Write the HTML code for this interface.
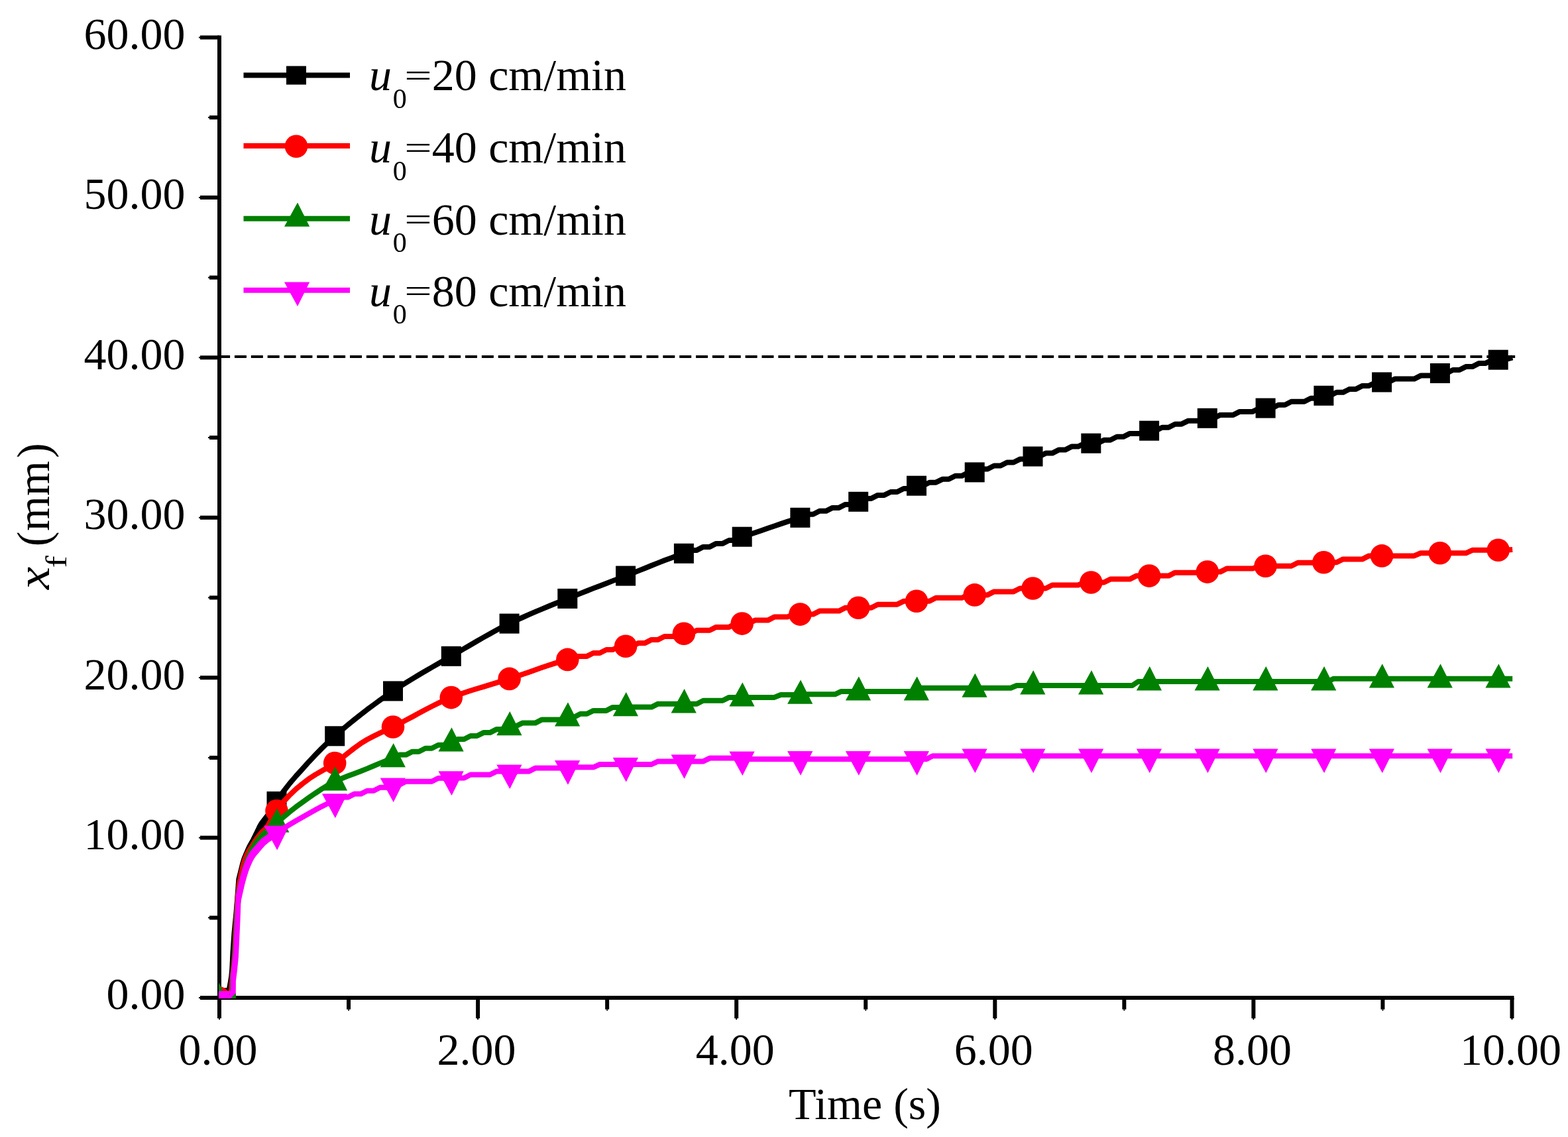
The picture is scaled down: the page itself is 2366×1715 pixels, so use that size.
<!DOCTYPE html>
<html lang="en"><head><meta charset="utf-8"><title>Flame front position versus time</title>
<style>html,body{margin:0;padding:0;background:#fff}body{width:2366px;height:1715px;overflow:hidden}svg{display:block}text{font-family:'Liberation Serif', 'DejaVu Serif', serif;fill:#000}</style>
</head><body>
<svg width="2366" height="1715" viewBox="0 0 2366 1715">
<rect width="2366" height="1715" fill="#ffffff"/>
<g stroke="#000" stroke-width="6" fill="none" stroke-linecap="butt">
<line x1="331.0" y1="53.5" x2="331.0" y2="1536"/>
<line x1="302" y1="1505.0" x2="2284.5" y2="1505.0"/>
<line x1="316" y1="1384.29" x2="331.0" y2="1384.29"/>
<line x1="302" y1="1263.58" x2="331.0" y2="1263.58"/>
<line x1="316" y1="1142.88" x2="331.0" y2="1142.88"/>
<line x1="302" y1="1022.17" x2="331.0" y2="1022.17"/>
<line x1="316" y1="901.46" x2="331.0" y2="901.46"/>
<line x1="302" y1="780.75" x2="331.0" y2="780.75"/>
<line x1="316" y1="660.04" x2="331.0" y2="660.04"/>
<line x1="302" y1="539.33" x2="331.0" y2="539.33"/>
<line x1="316" y1="418.62" x2="331.0" y2="418.62"/>
<line x1="302" y1="297.92" x2="331.0" y2="297.92"/>
<line x1="316" y1="177.21" x2="331.0" y2="177.21"/>
<line x1="302" y1="56.50" x2="331.0" y2="56.50"/>
<line x1="526.05" y1="1505.0" x2="526.05" y2="1522.5"/>
<line x1="721.10" y1="1505.0" x2="721.10" y2="1536"/>
<line x1="916.15" y1="1505.0" x2="916.15" y2="1522.5"/>
<line x1="1111.20" y1="1505.0" x2="1111.20" y2="1536"/>
<line x1="1306.25" y1="1505.0" x2="1306.25" y2="1522.5"/>
<line x1="1501.30" y1="1505.0" x2="1501.30" y2="1536"/>
<line x1="1696.35" y1="1505.0" x2="1696.35" y2="1522.5"/>
<line x1="1891.40" y1="1505.0" x2="1891.40" y2="1536"/>
<line x1="2086.45" y1="1505.0" x2="2086.45" y2="1522.5"/>
<line x1="2281.50" y1="1505.0" x2="2281.50" y2="1536"/>
</g>
<g fill="#000">
<rect x="300" y="1504.00" width="2" height="2"/>
<rect x="314" y="1383.29" width="2" height="2"/>
<rect x="300" y="1262.58" width="2" height="2"/>
<rect x="314" y="1141.88" width="2" height="2"/>
<rect x="300" y="1021.17" width="2" height="2"/>
<rect x="314" y="900.46" width="2" height="2"/>
<rect x="300" y="779.75" width="2" height="2"/>
<rect x="314" y="659.04" width="2" height="2"/>
<rect x="300" y="538.33" width="2" height="2"/>
<rect x="314" y="417.62" width="2" height="2"/>
<rect x="300" y="296.92" width="2" height="2"/>
<rect x="314" y="176.21" width="2" height="2"/>
<rect x="300" y="55.50" width="2" height="2"/>
<rect x="330.00" y="1536" width="2" height="2"/>
<rect x="525.05" y="1522.5" width="2" height="2"/>
<rect x="720.10" y="1536" width="2" height="2"/>
<rect x="915.15" y="1522.5" width="2" height="2"/>
<rect x="1110.20" y="1536" width="2" height="2"/>
<rect x="1305.25" y="1522.5" width="2" height="2"/>
<rect x="1500.30" y="1536" width="2" height="2"/>
<rect x="1695.35" y="1522.5" width="2" height="2"/>
<rect x="1890.40" y="1536" width="2" height="2"/>
<rect x="2085.45" y="1522.5" width="2" height="2"/>
<rect x="2280.50" y="1536" width="2" height="2"/>
</g>
<g font-size="68.0px" text-anchor="end">
<text x="279.5" y="1522.3">0.00</text>
<text x="279.5" y="1280.9">10.00</text>
<text x="279.5" y="1039.5">20.00</text>
<text x="279.5" y="798.0">30.00</text>
<text x="279.5" y="556.6">40.00</text>
<text x="279.5" y="315.2">50.00</text>
<text x="279.5" y="73.8">60.00</text>
</g>
<g font-size="68.0px" text-anchor="middle">
<text x="329.0" y="1605.5">0.00</text>
<text x="719.1" y="1605.5">2.00</text>
<text x="1109.2" y="1605.5">4.00</text>
<text x="1499.3" y="1605.5">6.00</text>
<text x="1889.4" y="1605.5">8.00</text>
<text x="2279.5" y="1605.5">10.00</text>
<text x="1305" y="1688">Time (s)</text>
</g>
<g transform="translate(74,0)" font-size="68.0px">
<g transform="translate(0,891.0) rotate(-90) scale(1,1.03)"><text x="1.8" y="0" font-style="italic" transform="scale(1.13,1)">x</text></g>
<g transform="translate(0,856.5) rotate(-90) scale(1,1.03)"><text x="0" y="25.2" font-size="42.0px" transform="scale(1.3,1)">f </text></g>
<g transform="translate(0,824.7) rotate(-90) scale(1,1.03)"><text y="0"><tspan x="0.4">(</tspan><tspan x="23.8">m</tspan><tspan x="76.8">m</tspan><tspan x="133.8">)</tspan></text></g>
</g>
<line x1="329.1" y1="538" x2="2286.5" y2="538" stroke="#000" stroke-width="4.2" stroke-dasharray="18 6.86"/>
<defs><clipPath id="plotclip"><rect x="330" y="0" width="2036" height="1506"/></clipPath></defs>
<g clip-path="url(#plotclip)">
<path d="M327.0,1509.0 L327.0,1501.0 L341.0,1501.0 L342.2,1490.0 L344.0,1480.0 L345.3,1472.0 L346.3,1461.0 L347.5,1436.0 L349.5,1407.0 L352.3,1378.0 L354.2,1355.0 L356.4,1325.5 L360.2,1310.2 L361.0,1307.0 L362.3,1301.7 L363.7,1297.0 L365.0,1293.1 L366.4,1289.7 L367.7,1286.6 L369.1,1283.4 L370.4,1280.3 L371.8,1277.3 L373.1,1274.6 L374.5,1272.1 L375.8,1269.8 L377.1,1267.4 L378.5,1264.9 L379.8,1262.3 L381.2,1259.5 L382.5,1256.8 L383.9,1254.1 L385.2,1251.3 L386.6,1248.4 L387.9,1245.6 L389.3,1243.0 L390.6,1240.7 L391.9,1238.7 L393.3,1236.9 L394.6,1235.2 L396.0,1233.5 L397.3,1231.8 L398.7,1230.1 L400.0,1228.2 L401.4,1226.2 L402.7,1224.1 L404.1,1222.0 L405.4,1219.7 L406.7,1217.4 L408.1,1215.0 L409.4,1212.4 L410.8,1209.7 L412.1,1207.1 L413.5,1204.8 L421.5,1204.8 L421.5,1212.8 L420.1,1215.1 L418.8,1217.7 L417.4,1220.4 L416.1,1223.0 L414.7,1225.4 L413.4,1227.7 L412.1,1230.0 L410.7,1232.1 L409.4,1234.2 L408.0,1236.2 L406.7,1238.1 L405.3,1239.8 L404.0,1241.5 L402.6,1243.2 L401.3,1244.9 L399.9,1246.7 L398.6,1248.7 L397.3,1251.0 L395.9,1253.6 L394.6,1256.4 L393.2,1259.3 L391.9,1262.1 L390.5,1264.8 L389.2,1267.5 L387.8,1270.3 L386.5,1272.9 L385.1,1275.4 L383.8,1277.8 L382.5,1280.1 L381.1,1282.6 L379.8,1285.3 L378.4,1288.3 L377.1,1291.4 L375.7,1294.6 L374.4,1297.7 L373.0,1301.1 L371.7,1305.0 L370.3,1309.7 L369.0,1315.0 L368.2,1318.2 L364.4,1333.5 L362.2,1363.0 L360.3,1386.0 L357.5,1415.0 L355.5,1444.0 L354.3,1469.0 L353.3,1480.0 L352.0,1488.0 L350.2,1498.0 L349.0,1509.0 L335.0,1509.0Z" fill="#000000"/>
<path d="M417.5,1208.8 L427.2,1194.5 L437.0,1181.9 L446.7,1170.5 L456.5,1159.7 L466.2,1148.9 L476.0,1138.6 L485.7,1128.6 L495.5,1119.2 L505.2,1110.3 L515.0,1101.8 L524.8,1093.5 L534.5,1085.6 L544.3,1077.8 L554.0,1070.3 L563.8,1063.1 L573.5,1056.0 L583.3,1049.1 L593.0,1042.4 L602.8,1036.0 L612.5,1029.8 L622.3,1023.8 L632.0,1018.0 L641.8,1012.2 L651.5,1006.6 L661.3,1001.0 L671.0,995.4 L680.8,989.8 L690.5,984.1 L700.3,978.4 L710.0,972.7 L719.8,967.0 L729.6,961.4 L739.3,955.9 L749.1,950.6 L758.8,945.4 L768.6,940.6 L778.3,935.9 L788.1,931.5 L797.8,927.1 L807.6,922.9 L817.3,918.9 L827.1,914.8 L836.8,910.8 L846.6,906.9 L856.3,902.9 L866.1,899.0 L875.8,895.1 L885.6,891.2 L895.3,887.4 L905.1,883.7 L914.9,879.9 L924.6,876.1 L934.4,872.4 L944.1,868.6 L953.9,864.8 L963.6,860.9 L973.4,857.0 L983.1,853.0 L992.9,849.1 L1002.6,845.3 L1012.4,841.7 L1022.1,838.1 L1031.9,834.8 L1041.6,829.9 L1051.4,829.9 L1061.1,824.9 L1070.9,824.9 L1080.6,819.9 L1090.4,819.9 L1100.1,815.0 L1109.9,815.0 L1119.7,809.7 L1129.4,806.7 L1139.2,803.5 L1148.9,800.2 L1158.7,796.8 L1168.4,793.5 L1178.2,790.1 L1187.9,786.9 L1197.7,783.7 L1207.4,780.8 L1217.2,775.8 L1226.9,775.8 L1236.7,770.8 L1246.4,770.8 L1256.2,765.9 L1265.9,765.9 L1275.7,760.9 L1285.4,760.9 L1295.2,756.8 L1305.0,751.9 L1314.7,751.9 L1324.5,746.9 L1334.2,746.9 L1344.0,742.0 L1353.7,742.0 L1363.5,737.0 L1373.2,737.0 L1383.0,732.7 L1392.7,732.7 L1402.5,727.7 L1412.2,727.7 L1422.0,722.8 L1431.7,722.8 L1441.5,717.8 L1451.2,717.8 L1461.0,712.9 L1470.7,712.4 L1480.5,707.5 L1490.2,707.5 L1500.0,702.5 L1509.8,702.5 L1519.5,697.5 L1529.3,697.5 L1539.0,692.6 L1548.8,692.6 L1558.5,688.5 L1568.3,688.5 L1578.0,683.6 L1587.8,683.6 L1597.5,678.6 L1607.3,678.6 L1617.0,673.6 L1626.8,673.6 L1636.5,668.7 L1646.3,668.7 L1656.0,668.7 L1665.8,663.8 L1675.5,663.8 L1685.3,658.8 L1695.0,658.8 L1704.8,653.9 L1714.6,653.9 L1724.3,653.9 L1734.1,649.7 L1743.8,649.7 L1753.6,644.7 L1763.3,644.7 L1773.1,639.7 L1782.8,639.7 L1792.6,634.8 L1802.3,634.8 L1812.1,634.8 L1821.8,630.8 L1831.6,630.8 L1841.3,625.9 L1851.1,625.9 L1860.8,625.9 L1870.6,620.9 L1880.3,620.9 L1890.1,620.9 L1899.9,616.0 L1909.6,615.6 L1919.4,615.6 L1929.1,610.7 L1938.9,610.7 L1948.6,605.7 L1958.4,605.7 L1968.1,605.7 L1977.9,600.7 L1987.6,600.7 L1997.4,596.8 L2007.1,596.8 L2016.9,591.8 L2026.6,591.8 L2036.4,586.9 L2046.1,586.9 L2055.9,581.9 L2065.6,581.9 L2075.4,577.0 L2085.1,576.5 L2094.9,576.5 L2104.7,571.6 L2114.4,571.6 L2124.2,571.6 L2133.9,571.6 L2143.7,566.6 L2153.4,566.6 L2163.2,566.6 L2172.9,563.0 L2182.7,563.0 L2192.4,558.0 L2202.2,558.0 L2211.9,553.1 L2221.7,553.1 L2231.4,548.1 L2241.2,548.1 L2250.9,543.2 L2260.7,542.7 L2270.4,542.7 L2282.2,539.3" fill="none" stroke="#000000" stroke-width="8" stroke-linejoin="round"/>
<g><rect x="314.7" y="1490.0" width="30" height="30" fill="#000000"/><rect x="402.5" y="1193.8" width="30" height="30" fill="#000000"/><rect x="490.2" y="1095.3" width="30" height="30" fill="#000000"/><rect x="578.0" y="1027.4" width="30" height="30" fill="#000000"/><rect x="665.8" y="974.8" width="30" height="30" fill="#000000"/><rect x="753.6" y="925.6" width="30" height="30" fill="#000000"/><rect x="841.3" y="887.9" width="30" height="30" fill="#000000"/><rect x="929.1" y="853.6" width="30" height="30" fill="#000000"/><rect x="1016.9" y="819.8" width="30" height="30" fill="#000000"/><rect x="1104.7" y="794.7" width="30" height="30" fill="#000000"/><rect x="1192.4" y="765.8" width="30" height="30" fill="#000000"/><rect x="1280.2" y="741.8" width="30" height="30" fill="#000000"/><rect x="1368.0" y="717.7" width="30" height="30" fill="#000000"/><rect x="1455.7" y="697.4" width="30" height="30" fill="#000000"/><rect x="1543.5" y="673.5" width="30" height="30" fill="#000000"/><rect x="1631.3" y="653.7" width="30" height="30" fill="#000000"/><rect x="1719.1" y="634.7" width="30" height="30" fill="#000000"/><rect x="1806.8" y="615.8" width="30" height="30" fill="#000000"/><rect x="1894.6" y="600.6" width="30" height="30" fill="#000000"/><rect x="1982.4" y="581.8" width="30" height="30" fill="#000000"/><rect x="2070.1" y="561.5" width="30" height="30" fill="#000000"/><rect x="2157.9" y="548.0" width="30" height="30" fill="#000000"/><rect x="2245.7" y="527.7" width="30" height="30" fill="#000000"/></g>
<path d="M327.0,1509.0 L327.0,1501.0 L344.0,1501.0 L345.2,1492.0 L346.6,1472.0 L348.6,1456.0 L350.2,1436.0 L351.4,1407.0 L352.9,1378.0 L354.6,1353.0 L357.0,1333.0 L360.2,1316.8 L361.0,1313.1 L362.3,1307.1 L363.7,1301.8 L365.0,1297.5 L366.4,1293.7 L367.7,1290.2 L369.1,1287.1 L370.4,1284.4 L371.8,1281.9 L373.1,1279.7 L374.5,1277.7 L375.8,1275.7 L377.1,1273.5 L378.5,1271.4 L379.8,1269.2 L381.2,1267.1 L382.5,1265.0 L383.9,1263.1 L385.2,1261.2 L386.6,1259.4 L387.9,1257.7 L389.3,1256.0 L390.6,1254.4 L391.9,1252.8 L393.3,1251.4 L394.6,1250.1 L396.0,1248.9 L397.3,1247.7 L398.7,1246.2 L400.0,1244.5 L401.4,1242.4 L402.7,1240.1 L404.1,1237.6 L405.4,1235.1 L406.7,1232.6 L408.1,1229.8 L409.4,1226.8 L410.8,1223.9 L412.1,1221.3 L413.5,1219.0 L421.5,1219.0 L421.5,1227.0 L420.1,1229.3 L418.8,1231.9 L417.4,1234.8 L416.1,1237.8 L414.7,1240.6 L413.4,1243.1 L412.1,1245.6 L410.7,1248.1 L409.4,1250.4 L408.0,1252.5 L406.7,1254.2 L405.3,1255.7 L404.0,1256.9 L402.6,1258.1 L401.3,1259.4 L399.9,1260.8 L398.6,1262.4 L397.3,1264.0 L395.9,1265.7 L394.6,1267.4 L393.2,1269.2 L391.9,1271.1 L390.5,1273.0 L389.2,1275.1 L387.8,1277.2 L386.5,1279.4 L385.1,1281.5 L383.8,1283.7 L382.5,1285.7 L381.1,1287.7 L379.8,1289.9 L378.4,1292.4 L377.1,1295.1 L375.7,1298.2 L374.4,1301.7 L373.0,1305.5 L371.7,1309.8 L370.3,1315.1 L369.0,1321.1 L368.2,1324.8 L365.0,1341.0 L362.6,1361.0 L360.9,1386.0 L359.4,1415.0 L358.2,1444.0 L356.6,1464.0 L354.6,1480.0 L353.2,1500.0 L352.0,1509.0 L335.0,1509.0Z" fill="#ff0000"/>
<path d="M417.5,1223.0 L427.2,1210.0 L437.0,1199.3 L446.7,1190.2 L456.5,1182.1 L466.2,1174.7 L476.0,1168.4 L485.7,1162.8 L495.5,1157.2 L505.2,1151.1 L515.0,1144.0 L524.8,1136.2 L534.5,1128.5 L544.3,1121.4 L554.0,1115.5 L563.8,1110.4 L573.5,1105.7 L583.3,1101.2 L593.0,1096.5 L602.8,1091.5 L612.5,1086.3 L622.3,1081.1 L632.0,1075.8 L641.8,1070.5 L651.5,1065.5 L661.3,1060.7 L671.0,1056.2 L680.8,1052.1 L690.5,1048.4 L700.3,1045.0 L710.0,1041.8 L719.8,1038.7 L729.6,1035.8 L739.3,1032.9 L749.1,1029.9 L758.8,1027.0 L768.6,1023.9 L778.3,1020.6 L788.1,1017.3 L797.8,1013.9 L807.6,1010.5 L817.3,1007.1 L827.1,1003.8 L836.8,1000.6 L846.6,997.6 L856.3,994.9 L866.1,989.9 L875.8,989.9 L885.6,989.9 L895.3,985.0 L905.1,985.0 L914.9,980.0 L924.6,980.0 L934.4,975.0 L944.1,974.8 L953.9,974.8 L963.6,969.9 L973.4,969.9 L983.1,964.9 L992.9,964.9 L1002.6,960.0 L1012.4,960.0 L1022.1,960.0 L1031.9,955.8 L1041.6,955.8 L1051.4,950.8 L1061.1,950.8 L1070.9,950.8 L1080.6,945.9 L1090.4,945.9 L1100.1,945.9 L1109.9,940.9 L1119.7,940.6 L1129.4,940.6 L1139.2,935.6 L1148.9,935.6 L1158.7,935.6 L1168.4,930.6 L1178.2,930.6 L1187.9,930.6 L1197.7,926.6 L1207.4,926.6 L1217.2,926.6 L1226.9,926.6 L1236.7,921.6 L1246.4,921.6 L1256.2,921.6 L1265.9,921.6 L1275.7,916.7 L1285.4,916.7 L1295.2,916.7 L1305.0,916.7 L1314.7,916.7 L1324.5,911.7 L1334.2,911.7 L1344.0,911.7 L1353.7,911.7 L1363.5,906.8 L1373.2,906.8 L1383.0,906.8 L1392.7,906.8 L1402.5,906.8 L1412.2,901.8 L1422.0,901.8 L1431.7,901.8 L1441.5,901.8 L1451.2,901.8 L1461.0,897.4 L1470.7,897.4 L1480.5,897.4 L1490.2,897.4 L1500.0,892.4 L1509.8,892.4 L1519.5,892.4 L1529.3,892.4 L1539.0,887.5 L1548.8,887.5 L1558.5,887.5 L1568.3,887.5 L1578.0,887.5 L1587.8,882.5 L1597.5,882.5 L1607.3,882.5 L1617.0,882.5 L1626.8,882.5 L1636.5,878.5 L1646.3,878.5 L1656.0,878.5 L1665.8,878.5 L1675.5,873.6 L1685.3,873.6 L1695.0,873.6 L1704.8,873.6 L1714.6,868.6 L1724.3,868.6 L1734.1,868.6 L1743.8,868.6 L1753.6,868.6 L1763.3,868.6 L1773.1,863.7 L1782.8,863.7 L1792.6,863.7 L1802.3,863.7 L1812.1,863.7 L1821.8,862.6 L1831.6,862.6 L1841.3,862.6 L1851.1,857.6 L1860.8,857.6 L1870.6,857.6 L1880.3,857.6 L1890.1,857.6 L1899.9,853.7 L1909.6,853.7 L1919.4,853.7 L1929.1,853.7 L1938.9,853.7 L1948.6,853.7 L1958.4,848.7 L1968.1,848.7 L1977.9,848.7 L1987.6,848.7 L1997.4,848.3 L2007.1,848.3 L2016.9,848.3 L2026.6,843.4 L2036.4,843.4 L2046.1,843.4 L2055.9,843.4 L2065.6,838.4 L2075.4,838.4 L2085.1,838.4 L2094.9,838.4 L2104.7,838.4 L2114.4,838.4 L2124.2,838.4 L2133.9,838.4 L2143.7,834.3 L2153.4,834.3 L2163.2,834.3 L2172.9,834.3 L2182.7,834.3 L2192.4,834.3 L2202.2,834.3 L2211.9,834.3 L2221.7,829.8 L2231.4,829.8 L2241.2,829.8 L2250.9,829.8 L2260.7,829.8 L2270.4,829.8 L2282.2,829.0" fill="none" stroke="#ff0000" stroke-width="8" stroke-linejoin="round"/>
<g><circle cx="329.7" cy="1505.0" r="17.3" fill="#ff0000"/><circle cx="417.5" cy="1223.0" r="17.3" fill="#ff0000"/><circle cx="505.2" cy="1151.1" r="17.3" fill="#ff0000"/><circle cx="593.0" cy="1096.5" r="17.3" fill="#ff0000"/><circle cx="680.8" cy="1052.1" r="17.3" fill="#ff0000"/><circle cx="768.6" cy="1023.9" r="17.3" fill="#ff0000"/><circle cx="856.3" cy="994.9" r="17.3" fill="#ff0000"/><circle cx="944.1" cy="974.8" r="17.3" fill="#ff0000"/><circle cx="1031.9" cy="955.8" r="17.3" fill="#ff0000"/><circle cx="1119.7" cy="940.6" r="17.3" fill="#ff0000"/><circle cx="1207.4" cy="926.6" r="17.3" fill="#ff0000"/><circle cx="1295.2" cy="916.7" r="17.3" fill="#ff0000"/><circle cx="1383.0" cy="906.8" r="17.3" fill="#ff0000"/><circle cx="1470.7" cy="897.4" r="17.3" fill="#ff0000"/><circle cx="1558.5" cy="887.5" r="17.3" fill="#ff0000"/><circle cx="1646.3" cy="878.5" r="17.3" fill="#ff0000"/><circle cx="1734.1" cy="868.6" r="17.3" fill="#ff0000"/><circle cx="1821.8" cy="862.6" r="17.3" fill="#ff0000"/><circle cx="1909.6" cy="853.7" r="17.3" fill="#ff0000"/><circle cx="1997.4" cy="848.3" r="17.3" fill="#ff0000"/><circle cx="2085.1" cy="838.4" r="17.3" fill="#ff0000"/><circle cx="2172.9" cy="834.3" r="17.3" fill="#ff0000"/><circle cx="2260.7" cy="829.8" r="17.3" fill="#ff0000"/></g>
<path d="M327.0,1509.0 L327.0,1501.0 L345.8,1501.0 L346.8,1492.0 L347.2,1472.0 L349.3,1456.0 L350.9,1436.0 L352.3,1407.0 L353.6,1378.0 L355.0,1356.0 L356.4,1344.2 L361.0,1325.6 L362.3,1320.6 L363.7,1315.4 L365.0,1310.3 L366.4,1305.6 L367.7,1301.1 L369.1,1296.8 L370.4,1292.8 L371.8,1289.4 L373.1,1286.3 L374.5,1283.4 L375.8,1280.7 L377.1,1278.2 L378.5,1275.8 L379.8,1273.5 L381.2,1271.4 L382.5,1269.4 L383.9,1267.5 L385.2,1265.7 L386.6,1264.0 L387.9,1262.4 L389.3,1260.8 L390.6,1259.3 L391.9,1257.9 L393.3,1256.5 L394.6,1255.2 L396.0,1253.9 L397.3,1252.7 L398.7,1251.5 L400.0,1250.3 L401.4,1249.3 L402.7,1248.3 L404.1,1247.4 L405.4,1246.4 L406.7,1245.2 L408.1,1243.9 L409.4,1242.4 L410.8,1240.8 L412.1,1239.3 L413.5,1237.8 L421.5,1237.8 L421.5,1245.8 L420.1,1247.3 L418.8,1248.8 L417.4,1250.4 L416.1,1251.9 L414.7,1253.2 L413.4,1254.4 L412.1,1255.4 L410.7,1256.3 L409.4,1257.3 L408.0,1258.3 L406.7,1259.5 L405.3,1260.7 L404.0,1261.9 L402.6,1263.2 L401.3,1264.5 L399.9,1265.9 L398.6,1267.3 L397.3,1268.8 L395.9,1270.4 L394.6,1272.0 L393.2,1273.7 L391.9,1275.5 L390.5,1277.4 L389.2,1279.4 L387.8,1281.5 L386.5,1283.8 L385.1,1286.2 L383.8,1288.7 L382.5,1291.4 L381.1,1294.3 L379.8,1297.4 L378.4,1300.8 L377.1,1304.8 L375.7,1309.1 L374.4,1313.6 L373.0,1318.3 L371.7,1323.4 L370.3,1328.6 L369.0,1333.6 L364.4,1352.2 L363.0,1364.0 L361.6,1386.0 L360.3,1415.0 L358.9,1444.0 L357.3,1464.0 L355.2,1480.0 L354.8,1500.0 L353.8,1509.0 L335.0,1509.0Z" fill="#008000"/>
<path d="M417.5,1241.8 L427.2,1232.9 L437.0,1224.7 L446.7,1217.1 L456.5,1210.0 L466.2,1203.1 L476.0,1196.3 L485.7,1189.9 L495.5,1184.0 L505.2,1178.8 L515.0,1174.4 L524.8,1170.6 L534.5,1166.9 L544.3,1163.3 L554.0,1159.4 L563.8,1155.2 L573.5,1151.1 L583.3,1147.1 L593.0,1143.6 L602.8,1138.6 L612.5,1138.6 L622.3,1133.7 L632.0,1133.7 L641.8,1128.7 L651.5,1128.7 L661.3,1123.7 L671.0,1123.7 L680.8,1119.9 L690.5,1115.0 L700.3,1115.0 L710.0,1110.0 L719.8,1110.0 L729.6,1105.1 L739.3,1105.1 L749.1,1100.1 L758.8,1100.1 L768.6,1095.5 L778.3,1095.5 L788.1,1090.6 L797.8,1090.6 L807.6,1090.6 L817.3,1085.6 L827.1,1085.6 L836.8,1085.6 L846.6,1085.6 L856.3,1081.8 L866.1,1081.8 L875.8,1076.8 L885.6,1076.8 L895.3,1071.9 L905.1,1071.9 L914.9,1071.9 L924.6,1066.9 L934.4,1066.9 L944.1,1066.6 L953.9,1066.6 L963.6,1066.6 L973.4,1066.6 L983.1,1066.6 L992.9,1061.7 L1002.6,1061.7 L1012.4,1061.7 L1022.1,1061.7 L1031.9,1061.7 L1041.6,1061.7 L1051.4,1061.7 L1061.1,1056.8 L1070.9,1056.8 L1080.6,1056.8 L1090.4,1056.8 L1100.1,1051.9 L1109.9,1051.9 L1119.7,1051.9 L1129.4,1051.9 L1139.2,1051.9 L1148.9,1051.9 L1158.7,1051.9 L1168.4,1051.9 L1178.2,1048.0 L1187.9,1048.0 L1197.7,1048.0 L1209.5,1047.3 L1259.9,1047.3 L1268.9,1043.1 L1381.2,1043.1 L1390.2,1037.7 L1525.2,1037.7 L1534.2,1034.0 L1708.5,1034.0 L1717.5,1028.0 L2003.5,1028.0 L2012.5,1023.7 L2282.2,1023.7" fill="none" stroke="#008000" stroke-width="8" stroke-linejoin="round"/>
<g><polygon points="330.4,1482.4 348.6,1518.7 310.4,1518.7" fill="#008000"/><polygon points="418.2,1219.2 436.4,1255.5 398.2,1255.5" fill="#008000"/><polygon points="505.9,1156.2 524.1,1192.5 485.9,1192.5" fill="#008000"/><polygon points="593.7,1121.0 611.9,1157.3 573.7,1157.3" fill="#008000"/><polygon points="681.5,1097.3 699.7,1133.6 661.5,1133.6" fill="#008000"/><polygon points="769.3,1072.9 787.5,1109.2 749.3,1109.2" fill="#008000"/><polygon points="857.0,1059.2 875.2,1095.5 837.0,1095.5" fill="#008000"/><polygon points="944.8,1044.0 963.0,1080.3 924.8,1080.3" fill="#008000"/><polygon points="1032.6,1039.1 1050.8,1075.4 1012.6,1075.4" fill="#008000"/><polygon points="1120.4,1029.3 1138.6,1065.6 1100.4,1065.6" fill="#008000"/><polygon points="1208.1,1025.4 1226.3,1061.7 1188.1,1061.7" fill="#008000"/><polygon points="1295.9,1020.3 1314.1,1056.6 1275.9,1056.6" fill="#008000"/><polygon points="1383.7,1020.3 1401.9,1056.6 1363.7,1056.6" fill="#008000"/><polygon points="1471.4,1015.5 1489.6,1051.8 1451.4,1051.8" fill="#008000"/><polygon points="1559.2,1011.1 1577.4,1047.4 1539.2,1047.4" fill="#008000"/><polygon points="1647.0,1011.1 1665.2,1047.4 1627.0,1047.4" fill="#008000"/><polygon points="1734.8,1005.1 1753.0,1041.4 1714.8,1041.4" fill="#008000"/><polygon points="1822.5,1005.1 1840.7,1041.4 1802.5,1041.4" fill="#008000"/><polygon points="1910.3,1005.1 1928.5,1041.4 1890.3,1041.4" fill="#008000"/><polygon points="1998.1,1005.1 2016.3,1041.4 1978.1,1041.4" fill="#008000"/><polygon points="2085.8,1001.2 2104.0,1037.5 2065.8,1037.5" fill="#008000"/><polygon points="2173.6,1001.2 2191.8,1037.5 2153.6,1037.5" fill="#008000"/><polygon points="2261.4,1001.2 2279.6,1037.5 2241.4,1037.5" fill="#008000"/></g>
<path d="M327.0,1509.0 L327.0,1501.0 L346.5,1501.0 L347.8,1492.0 L347.9,1472.0 L349.9,1456.0 L351.9,1436.0 L353.3,1407.0 L354.6,1378.0 L355.5,1351.5 L361.0,1327.0 L362.3,1322.0 L363.7,1317.1 L365.0,1312.5 L366.4,1308.2 L367.7,1304.3 L369.1,1300.8 L370.4,1297.5 L371.8,1294.4 L373.1,1291.6 L374.5,1289.0 L375.8,1286.7 L377.1,1284.7 L378.5,1282.9 L379.8,1281.3 L381.2,1279.7 L382.5,1278.2 L383.9,1276.6 L385.2,1275.0 L386.6,1273.4 L387.9,1271.8 L389.3,1270.2 L390.6,1268.7 L391.9,1267.3 L393.3,1266.0 L394.6,1264.9 L396.0,1263.8 L397.3,1262.8 L398.7,1261.8 L400.0,1260.9 L401.4,1259.9 L402.7,1259.0 L404.1,1258.1 L405.4,1257.1 L406.7,1256.2 L408.1,1255.3 L409.4,1254.4 L410.8,1253.6 L412.1,1252.7 L413.5,1251.8 L421.5,1251.8 L421.5,1259.8 L420.1,1260.7 L418.8,1261.6 L417.4,1262.4 L416.1,1263.3 L414.7,1264.2 L413.4,1265.1 L412.1,1266.1 L410.7,1267.0 L409.4,1267.9 L408.0,1268.9 L406.7,1269.8 L405.3,1270.8 L404.0,1271.8 L402.6,1272.9 L401.3,1274.0 L399.9,1275.3 L398.6,1276.7 L397.3,1278.2 L395.9,1279.8 L394.6,1281.4 L393.2,1283.0 L391.9,1284.6 L390.5,1286.2 L389.2,1287.7 L387.8,1289.3 L386.5,1290.9 L385.1,1292.7 L383.8,1294.7 L382.5,1297.0 L381.1,1299.6 L379.8,1302.4 L378.4,1305.5 L377.1,1308.8 L375.7,1312.3 L374.4,1316.2 L373.0,1320.5 L371.7,1325.1 L370.3,1330.0 L369.0,1335.0 L363.5,1359.5 L362.6,1386.0 L361.3,1415.0 L359.9,1444.0 L357.9,1464.0 L355.9,1480.0 L355.8,1500.0 L354.5,1509.0 L335.0,1509.0Z" fill="#ff00ff"/>
<path d="M417.5,1255.8 L427.2,1249.7 L437.0,1243.8 L446.7,1238.0 L456.5,1232.5 L466.2,1227.1 L476.0,1221.6 L485.7,1216.3 L495.5,1211.5 L505.2,1207.5 L515.0,1202.6 L524.8,1202.6 L534.5,1197.6 L544.3,1197.6 L554.0,1192.7 L563.8,1192.7 L573.5,1187.7 L583.3,1187.7 L593.0,1183.6 L602.8,1183.6 L612.5,1178.7 L622.3,1178.7 L632.0,1178.7 L641.8,1178.7 L651.5,1178.7 L661.3,1173.7 L671.0,1173.7 L680.8,1173.5 L690.5,1173.5 L700.3,1173.5 L710.0,1168.5 L719.8,1168.5 L729.6,1168.5 L739.3,1168.5 L749.1,1163.6 L758.8,1163.6 L768.6,1163.6 L778.3,1163.6 L788.1,1163.6 L797.8,1163.6 L807.6,1158.6 L817.3,1158.6 L827.1,1158.6 L836.8,1158.6 L846.6,1158.6 L856.3,1157.3 L866.1,1157.3 L875.8,1157.3 L885.6,1157.3 L895.3,1157.3 L905.1,1153.0 L914.9,1153.0 L924.6,1153.0 L934.4,1153.0 L944.1,1153.0 L953.9,1153.0 L963.6,1153.0 L973.4,1153.0 L983.1,1153.0 L992.9,1148.4 L1002.6,1148.4 L1012.4,1148.4 L1022.1,1148.4 L1031.9,1148.4 L1041.6,1148.4 L1051.4,1148.4 L1061.1,1148.4 L1070.9,1143.6 L1080.6,1143.6 L1090.4,1143.6 L1100.1,1143.6 L1109.9,1143.6 L1119.5,1145.0 L1398.2,1145.0 L1407.2,1140.2 L2282.2,1140.2" fill="none" stroke="#ff00ff" stroke-width="8" stroke-linejoin="round"/>
<g><polygon points="310.4,1494.8 348.6,1494.8 330.4,1531.4" fill="#ff00ff"/><polygon points="398.2,1245.6 436.4,1245.6 418.2,1282.2" fill="#ff00ff"/><polygon points="485.9,1197.3 524.1,1197.3 505.9,1233.9" fill="#ff00ff"/><polygon points="573.7,1173.4 611.9,1173.4 593.7,1210.0" fill="#ff00ff"/><polygon points="661.5,1163.3 699.7,1163.3 681.5,1199.9" fill="#ff00ff"/><polygon points="749.3,1153.4 787.5,1153.4 769.3,1190.0" fill="#ff00ff"/><polygon points="837.0,1147.1 875.2,1147.1 857.0,1183.7" fill="#ff00ff"/><polygon points="924.8,1142.8 963.0,1142.8 944.8,1179.4" fill="#ff00ff"/><polygon points="1012.6,1138.2 1050.8,1138.2 1032.6,1174.8" fill="#ff00ff"/><polygon points="1100.4,1133.4 1138.6,1133.4 1120.4,1170.0" fill="#ff00ff"/><polygon points="1188.1,1133.1 1226.3,1133.1 1208.1,1169.7" fill="#ff00ff"/><polygon points="1275.9,1133.1 1314.1,1133.1 1295.9,1169.7" fill="#ff00ff"/><polygon points="1363.7,1133.1 1401.9,1133.1 1383.7,1169.7" fill="#ff00ff"/><polygon points="1451.4,1129.5 1489.6,1129.5 1471.4,1166.1" fill="#ff00ff"/><polygon points="1539.2,1129.5 1577.4,1129.5 1559.2,1166.1" fill="#ff00ff"/><polygon points="1627.0,1129.5 1665.2,1129.5 1647.0,1166.1" fill="#ff00ff"/><polygon points="1714.8,1129.5 1753.0,1129.5 1734.8,1166.1" fill="#ff00ff"/><polygon points="1802.5,1129.5 1840.7,1129.5 1822.5,1166.1" fill="#ff00ff"/><polygon points="1890.3,1129.5 1928.5,1129.5 1910.3,1166.1" fill="#ff00ff"/><polygon points="1978.1,1129.5 2016.3,1129.5 1998.1,1166.1" fill="#ff00ff"/><polygon points="2065.8,1129.5 2104.0,1129.5 2085.8,1166.1" fill="#ff00ff"/><polygon points="2153.6,1129.5 2191.8,1129.5 2173.6,1166.1" fill="#ff00ff"/><polygon points="2241.4,1129.5 2279.6,1129.5 2261.4,1166.1" fill="#ff00ff"/></g>
<polygon points="348,1506 356,1506 356,1498" fill="#008000"/>
</g>
<line x1="367.5" y1="113.6" x2="528" y2="113.6" stroke="#000000" stroke-width="8"/>
<rect x="432.0" y="99.6" width="30" height="28" fill="#000000"/>
<g font-size="68.0px"><text x="557" y="136.0" font-style="italic">u</text><text x="592.7" y="162.8" font-size="42.0px">0</text><text transform="translate(610.2,129.70) scale(1.08,0.725)" x="0" y="0">=</text><text y="136.0"><tspan x="651.8">20 </tspan><tspan x="737.2">cm/min</tspan></text></g>
<line x1="367.5" y1="220.0" x2="528" y2="220.0" stroke="#ff0000" stroke-width="8"/>
<circle cx="447.0" cy="220.7" r="17.3" fill="#ff0000"/>
<g font-size="68.0px"><text x="557" y="245.0" font-style="italic">u</text><text x="592.7" y="271.8" font-size="42.0px">0</text><text transform="translate(610.2,238.70) scale(1.08,0.725)" x="0" y="0">=</text><text y="245.0"><tspan x="651.8">40 </tspan><tspan x="737.2">cm/min</tspan></text></g>
<line x1="367.5" y1="329.75" x2="528" y2="329.75" stroke="#008000" stroke-width="8"/>
<polygon points="449.0,305.4 467.2,341.8 429.0,341.8" fill="#008000"/>
<g font-size="68.0px"><text x="557" y="353.5" font-style="italic">u</text><text x="592.7" y="380.3" font-size="42.0px">0</text><text transform="translate(610.2,347.20) scale(1.08,0.725)" x="0" y="0">=</text><text y="353.5"><tspan x="651.8">60 </tspan><tspan x="737.2">cm/min</tspan></text></g>
<line x1="367.5" y1="437.8" x2="528" y2="437.8" stroke="#ff00ff" stroke-width="8"/>
<polygon points="429.0,425.4 467.2,425.4 449.0,462.0" fill="#ff00ff"/>
<g font-size="68.0px"><text x="557" y="461.5" font-style="italic">u</text><text x="592.7" y="488.3" font-size="42.0px">0</text><text transform="translate(610.2,455.20) scale(1.08,0.725)" x="0" y="0">=</text><text y="461.5"><tspan x="651.8">80 </tspan><tspan x="737.2">cm/min</tspan></text></g>
</svg></body></html>
